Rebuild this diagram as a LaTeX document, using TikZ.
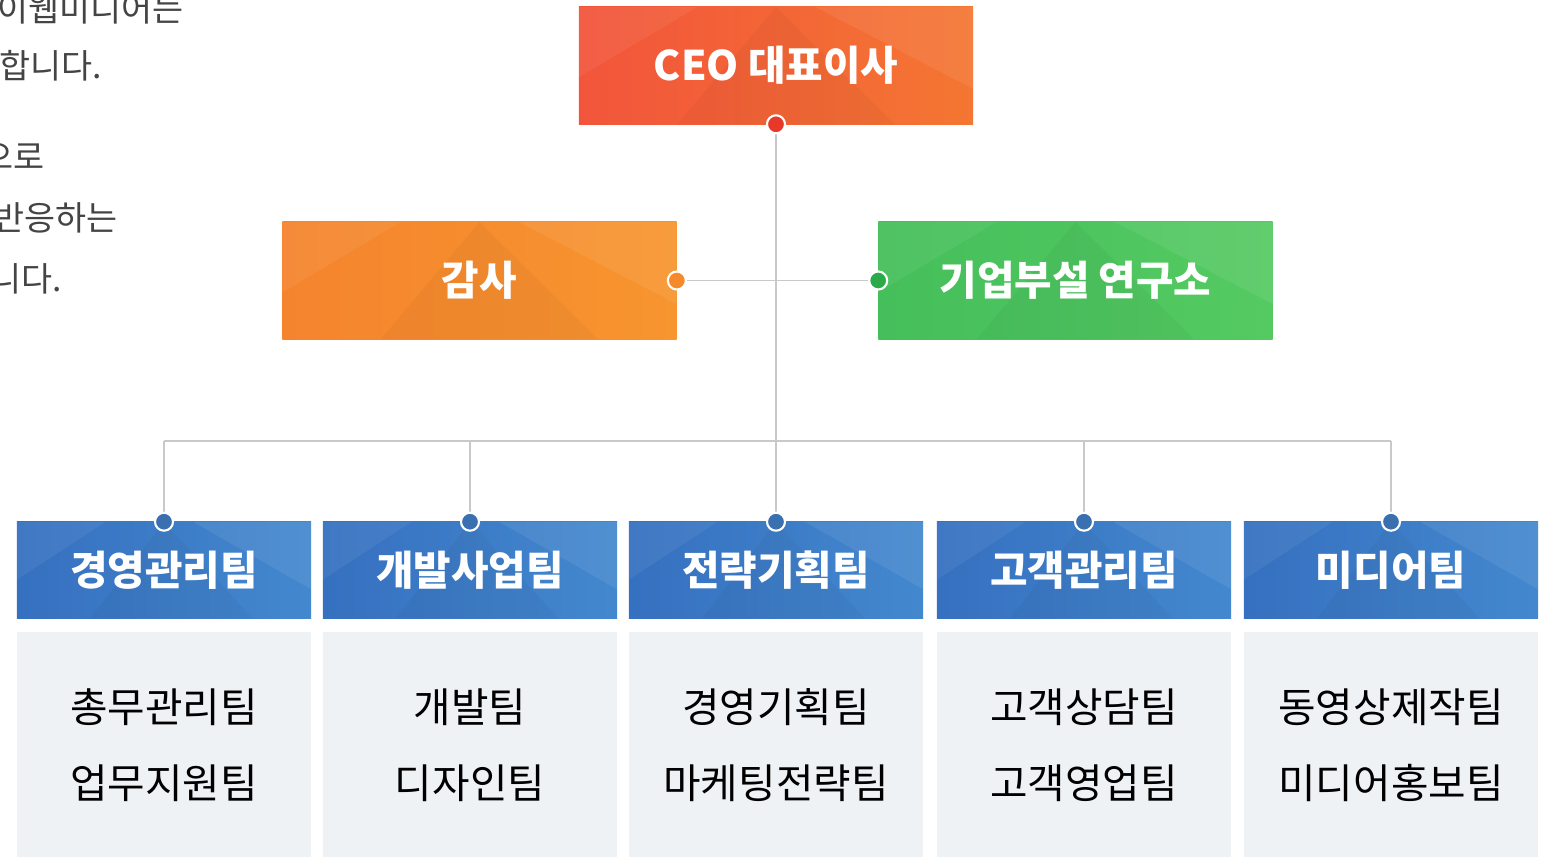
\documentclass[tikz,border=0pt]{standalone}
\usepackage{fontspec}
\setmainfont{Noto Sans CJK KR}
\usetikzlibrary{positioning}
\usetikzlibrary{calc}

\definecolor{ceoRed}{HTML}{F2553B}
\definecolor{ceoOrange}{HTML}{F47632}
\definecolor{auditOrange}{HTML}{F5842E}
\definecolor{auditLight}{HTML}{F7952F}
\definecolor{labGreen}{HTML}{45BF5B}
\definecolor{labLight}{HTML}{55CA62}
\definecolor{teamBlue}{HTML}{3670C0}
\definecolor{teamLight}{HTML}{4388CE}
\definecolor{subGray}{HTML}{EFF2F5}
\definecolor{lineGray}{HTML}{C9C9C9}
\definecolor{introGray}{HTML}{444444}
\definecolor{ceoDot}{HTML}{E8382A}
\definecolor{auditDot}{HTML}{F58A2A}
\definecolor{labDot}{HTML}{2BAA4A}
\definecolor{teamDot}{HTML}{3A6FB0}

\tikzset{
  facets/.style={path picture={
      \coordinate (nw) at (path picture bounding box.north west);
      \coordinate (ne) at (path picture bounding box.north east);
      \coordinate (sw) at (path picture bounding box.south west);
      \coordinate (se) at (path picture bounding box.south east);
      \fill[white,opacity=.06] (nw) -- ($(nw)!.3!(ne)$) -- ($(nw)!.6!(sw)$) -- cycle;
      \fill[white,opacity=.07] ($(nw)!.6!(ne)$) -- (ne) -- ($(ne)!.7!(se)$) -- cycle;
      \fill[black,opacity=.03] ($(sw)!.25!(se)$) -- ($(nw)!.5!(ne)$) -- ($(sw)!.8!(se)$) -- cycle;
  }},
  box/.style={rectangle, inner sep=0pt, minimum width=9.85cm, minimum height=2.925cm,
    text=white, font=\fontsize{29}{33}\selectfont\bfseries, facets},
  teambox/.style={box, minimum width=7.35cm, minimum height=2.4cm,
    left color=teamBlue, right color=teamLight},
  subbox/.style={rectangle, anchor=north, inner sep=0pt, fill=subGray,
    minimum width=7.35cm, minimum height=5.625cm, align=center,
    font=\fontsize{29}{54}\selectfont},
  joint/.style={circle, draw=white, line width=1.5pt, inner sep=0pt, minimum size=0.45cm},
  link/.style={draw=lineGray, line width=1.1pt},
  intro/.style={anchor=east, inner sep=0pt, text=introGray, font=\fontsize{24}{28}\selectfont},
}

\begin{document}
\begin{tikzpicture}[x=0.025cm, y=-0.025cm]
  \useasboundingbox (0,0) rectangle (1544,857);
  \clip (0,0) rectangle (1544,857);

  % intro text, cut at the left edge
  \node[intro] (introA) at (184,9) {이웹미디어는};
  \node[intro] (introB) at (102,66) {합니다.};
  \node[intro] (introC) at (45,157) {으로};
  \node[intro] (introD) at (118,218) {반응하는};
  \node[intro] (introE) at (62,279) {니다.};

  % top boxes
  \node[box, left color=ceoRed, right color=ceoOrange] (ceo) at (776,65.5) {CEO 대표이사};
  \node[box, left color=auditOrange, right color=auditLight] (audit) at (479.5,280.5) {감사};
  \node[box, left color=labGreen, right color=labLight] (lab) at (1075.5,280.5) {기업부설 연구소};

  % teams
  \foreach \id/\x/\head/\subs in {
      mgmt/164/경영관리팀/{총무관리팀\\업무지원팀},
      dev/470/개발사업팀/{개발팀\\디자인팀},
      plan/776/전략기획팀/{경영기획팀\\마케팅전략팀},
      care/1084/고객관리팀/{고객상담팀\\고객영업팀},
      media/1391/미디어팀/{동영상제작팀\\미디어홍보팀}}{
    \node[teambox] (team\id) at (\x,570) {\head};
    \node[subbox] (sub\id) at (\x,632) {\subs};
  }

  % connectors
  \coordinate (bus) at (776,441);
  \draw[link] (ceo.south) -- (teamplan.north);
  \draw[link] (audit.east) -- (lab.west);
  \draw[link] (teammgmt.north |- bus) -- (teammedia.north |- bus);
  \foreach \id in {mgmt,dev,care,media}
    \draw[link] (team\id.north |- bus) -- (team\id.north);

  % joints
  \node[joint, fill=ceoDot] (ceoJoint) at (ceo.south) {};
  \node[joint, fill=auditDot] (auditJoint) at (audit.east) {};
  \node[joint, fill=labDot] (labJoint) at (lab.west) {};
  \foreach \id in {mgmt,dev,plan,care,media}
    \node[joint, fill=teamDot] (joint\id) at (team\id.north) {};
\end{tikzpicture}
\end{document}
